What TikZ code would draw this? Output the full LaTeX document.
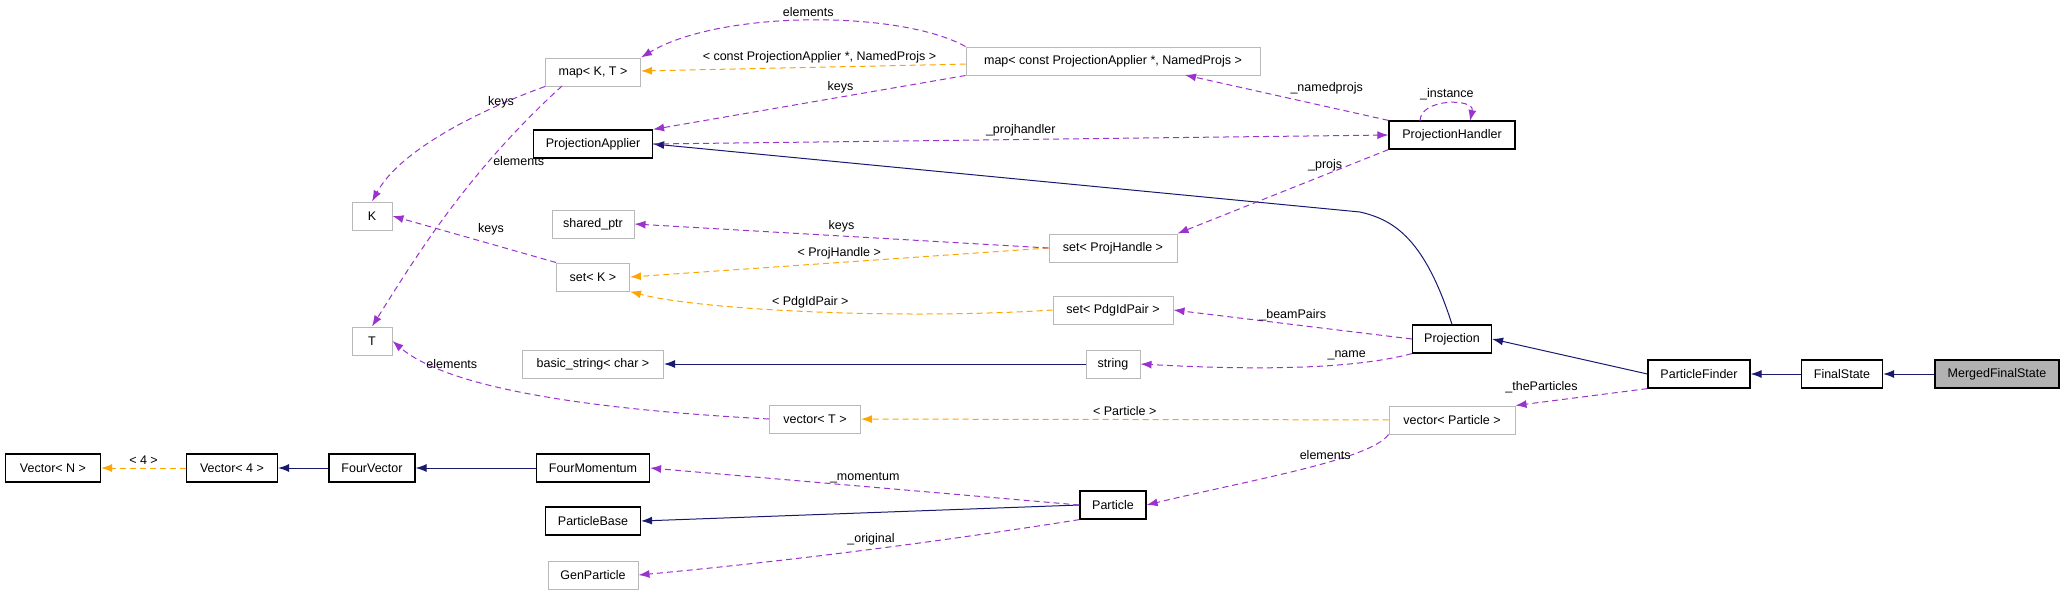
\documentclass[tikz,border=0pt]{standalone}
\usepackage{fontspec}
\setmainfont{Liberation Sans}
\usetikzlibrary{arrows.meta}
\definecolor{usecol}{HTML}{9A32CD}
\definecolor{tplcol}{HTML}{FFA500}
\definecolor{inhcol}{HTML}{191970}
\begin{document}
\begin{tikzpicture}[x=1pt,y=-1pt,font=\fontsize{12.5}{14}\selectfont,
  >={Latex[length=11pt,width=8pt]},
  cls/.style={draw=black,line width=1.2pt,minimum height=28pt,inner sep=2pt,fill=white},
  ext/.style={draw=gray!55,line width=1pt,minimum height=28pt,inner sep=2pt,fill=white},
  uses/.style={->,usecol,dashed,line width=1pt,dash pattern=on 6pt off 4pt},
  tmpl/.style={->,tplcol,dashed,line width=1pt,dash pattern=on 6pt off 4pt},
  inh/.style={->,inhcol,line width=1pt},
  lbl/.style={font=\fontsize{12.5}{14}\selectfont,text=black}]
\useasboundingbox (0,0) rectangle (2067,595);

% template containers
\node [ext,minimum width=95pt] (mapKT) at (593,72) {map< K, T >};
\node [ext,minimum width=294pt] (mapPA) at (1113,61) {map< const ProjectionApplier *, NamedProjs >};
\node [ext,minimum width=40pt] (K) at (372,216) {K};
\node [ext,minimum width=40pt] (T) at (372,341) {T};
\node [ext,minimum width=82pt] (sharedptr) at (593,224) {shared\_ptr};
\node [ext,minimum width=73pt] (setK) at (593,277) {set< K >};
\node [ext,minimum width=128pt] (setPH) at (1113,248) {set< ProjHandle >};
\node [ext,minimum width=120pt] (setPdg) at (1113,310) {set< PdgIdPair >};
\node [ext,minimum width=141pt] (basicstr) at (593,364) {basic\_string< char >};
\node [ext,minimum width=54pt] (string) at (1113,364) {string};
\node [ext,minimum width=91pt] (vecT) at (815,419) {vector< T >};
\node [ext,minimum width=126pt] (vecP) at (1452,420) {vector< Particle >};
\node [ext,minimum width=90pt] (genp) at (593,575) {GenParticle};

% classes
\node [cls,minimum width=119pt] (projapp) at (593,144) {ProjectionApplier};
\node [cls,minimum width=126pt] (projhand) at (1452,135) {ProjectionHandler};
\node [cls,minimum width=79pt] (proj) at (1452,339) {Projection};
\node [cls,minimum width=102pt] (pfinder) at (1699,374) {ParticleFinder};
\node [cls,minimum width=81pt] (fstate) at (1842,374) {FinalState};
\node [cls,minimum width=124pt,fill=gray!60] (merged) at (1997,374) {MergedFinalState};
\node [cls,minimum width=95pt] (vecN) at (53,468) {Vector< N >};
\node [cls,minimum width=91pt] (vec4) at (232,468) {Vector< 4 >};
\node [cls,minimum width=86pt] (fourvec) at (372,468) {FourVector};
\node [cls,minimum width=113pt] (fourmom) at (593,468) {FourMomentum};
\node [cls,minimum width=95pt] (pbase) at (593,521) {ParticleBase};
\node [cls,minimum width=66pt] (particle) at (1113,505) {Particle};

% inheritance
\draw [inh] (merged) -- (fstate);
\draw [inh] (fstate) -- (pfinder);
\draw [inh] (pfinder.west) -- (proj.east);
\draw [inh] (proj.north) .. controls (1425,240) and (1395,220) .. (1360,212) -- (projapp.east);
\draw [inh] (string) -- (basicstr);
\draw [inh] (fourmom) -- (fourvec);
\draw [inh] (fourvec) -- (vec4);
\draw [inh] (particle.west) -- (pbase.east);

% template instances
\draw [tmpl] (vec4) -- node [lbl,above] {< 4 >} (vecN);
\draw [tmpl] (mapPA) -- node [lbl,above,pos=0.45] {< const ProjectionApplier *, NamedProjs >} (mapKT);
\draw [tmpl] (setPH.west) -- node [lbl,above] {< ProjHandle >} (setK.east);
\draw [tmpl] (setPdg.west) .. controls (900,320) and (700,310) .. node [lbl,above] {< PdgIdPair >} (setK.south east);
\draw [tmpl] (vecP) -- node [lbl,above] {< Particle >} (vecT);

% usage
\draw [uses] (mapPA.north west) .. controls (900,10) and (720,10) .. node [lbl,above] {elements} (mapKT.north east);
\draw [uses] (mapPA.south west) -- node [lbl,above,pos=0.4] {keys} (projapp.north east);
\draw [uses] (projapp.east) -- node [lbl,above] {\_projhandler} (projhand.west);
\draw [uses] (projhand.north west) -- node [lbl,above right] {\_namedprojs} (1185,75);
\draw [uses] (1420,121) .. controls (1420,98) and (1475,98) .. node [lbl,above] {\_instance} (1470,121);
\draw [uses] (projhand.south west) -- node [lbl,above,pos=0.3] {\_projs} (setPH.north east);
\draw [uses] (setPH.west) -- node [lbl,above] {keys} (sharedptr.east);
\draw [uses] (setK.north west) -- node [lbl,above right] {keys} (K.east);
\draw [uses] (mapKT.south west) .. controls (480,110) and (400,150) .. node [lbl,above right,pos=0.3] {keys} (K.north);
\draw [uses] (562,86) .. controls (470,170) and (420,250) .. node [lbl,right,pos=0.3] {elements} (T.north);
\draw [uses] (vecT.west) .. controls (600,410) and (450,390) .. node [lbl,above,pos=0.75] {elements} (T.east);
\draw [uses] (proj.west) -- node [lbl,above] {\_beamPairs} (setPdg.east);
\draw [uses] (proj.south west) .. controls (1350,370) and (1250,370) .. node [lbl,above,pos=0.3] {\_name} (string.east);
\draw [uses] (pfinder.south west) -- node [lbl,above left] {\_theParticles} (vecP.north east);
\draw [uses] (vecP.south west) .. controls (1370,460) and (1250,480) .. node [lbl,above,pos=0.4] {elements} (particle.east);
\draw [uses] (particle.west) -- node [lbl,above] {\_momentum} (fourmom.east);
\draw [uses] (particle.south west) .. controls (950,540) and (800,560) .. node [lbl,above] {\_original} (genp.east);
\end{tikzpicture}
\end{document}
